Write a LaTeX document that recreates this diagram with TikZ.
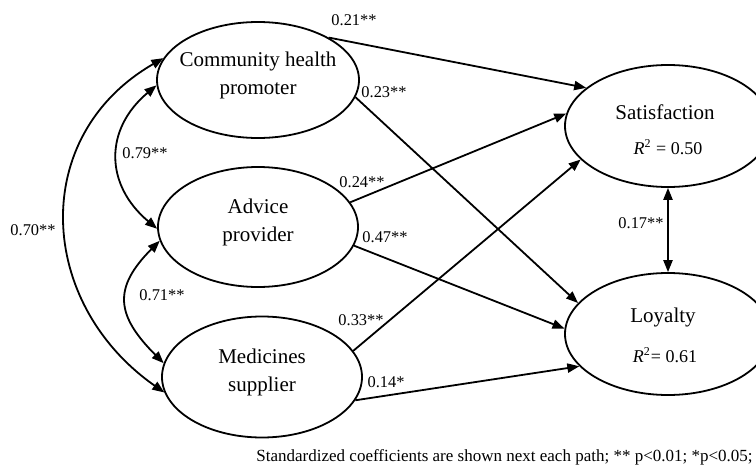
\documentclass[tikz,border=0pt]{standalone}
\usepackage{fontspec}
\setmainfont{Liberation Serif}
\usetikzlibrary{arrows.meta,shapes.geometric}
\tikzset{
  latent/.style={draw,ellipse,line width=0.9pt,inner sep=0pt},
  ltext/.style={align=center,font=\fontsize{10.5}{14}\selectfont},
  rsq/.style={font=\fontsize{9}{11}\selectfont},
  coef/.style={font=\fontsize{8.2}{10}\selectfont,inner sep=0pt},
  effect/.style={line width=0.9pt,-{Triangle[length=6pt,width=4.6pt]}},
  corr/.style={line width=0.9pt,{Triangle[length=6pt,width=4.6pt]}-{Triangle[length=6pt,width=4.6pt]}},
}
\begin{document}
\begin{tikzpicture}[x=0.5pt,y=-0.5pt]
\useasboundingbox (0,0) rectangle (756,466);
\clip (0,0) rectangle (756,466);
\node[latent,minimum width=101pt,minimum height=58pt] (chp) at (258,80) {};
\node[latent,minimum width=100pt,minimum height=60pt] (adv) at (258,227) {};
\node[latent,minimum width=100pt,minimum height=60.5pt] (med) at (262,377) {};
\node[latent,minimum width=103pt,minimum height=61pt] (sat) at (668,126) {};
\node[latent,minimum width=103pt,minimum height=61pt] (loy) at (668,334) {};
\node[ltext] at ([yshift=2.5pt]chp.center) {Community health\\promoter};
\node[ltext] at ([yshift=2.5pt]adv.center) {Advice\\provider};
\node[ltext] at ([yshift=2.5pt]med.center) {Medicines\\supplier};
\node[ltext] at (665,112) {Satisfaction};
\node[rsq] at (668,147) {\textit{R}\textsuperscript{2} = 0.50};
\node[ltext] at (663,317) {Loyalty};
\node[rsq] at (665,355) {\textit{R}\textsuperscript{2}= 0.61};
\draw[effect] (chp.31) -- (sat.155);
\draw[effect] (chp.-10) -- (loy.161);
\draw[effect] (adv.15) -- (sat.173);
\draw[effect] (adv.-11) -- (loy.177);
\draw[effect] (med.16) -- (sat.201);
\draw[effect] (med.-14) -- (loy.200);
\draw[corr] (sat.south) -- (loy.north);
\draw[corr] (chp.183) to[out=220,in=140,looseness=1.22] (adv.181);
\draw[corr] (adv.188) to[out=225,in=135,looseness=1.4] (med.172);
\draw[corr] (chp.167) to[out=210,in=145,looseness=1.19] (med.189);
\node[coef] at (354,20) {0.21**};
\node[coef] at (384,92) {0.23**};
\node[coef] at (145,153) {0.79**};
\node[coef] at (362,182) {0.24**};
\node[coef] at (33,230) {0.70**};
\node[coef] at (385,237) {0.47**};
\node[coef] at (162,295) {0.71**};
\node[coef] at (361,320) {0.33**};
\node[coef] at (386,382) {0.14*};
\node[coef] at (641,223) {0.17**};
\node[font=\fontsize{8.5}{10}\selectfont,anchor=east,inner sep=0pt] (note) at (753,457) {Standardized coefficients are shown next each path; ** p<0.01; *p<0.05;};
\end{tikzpicture}
\end{document}
